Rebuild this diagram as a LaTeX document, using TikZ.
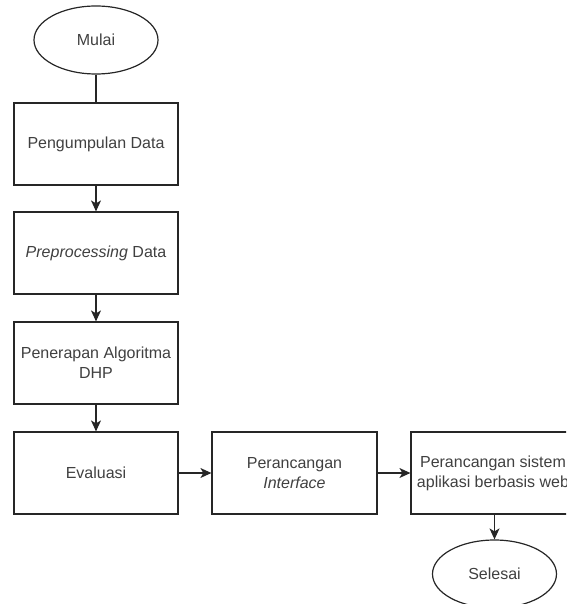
\documentclass[tikz,border=0pt]{standalone}
\usepackage{fontspec}
\setmainfont{Liberation Sans}
\usetikzlibrary{shapes.geometric,arrows.meta}
\begin{document}
\begin{tikzpicture}[x=1pt,y=-1pt,
  box/.style={draw=black!85, line width=1.2pt, minimum width=164pt, minimum height=82pt, inner sep=0pt, align=center, text=black!75, font=\fontsize{16}{20}\selectfont},
  term/.style={ellipse, draw=black!85, line width=1.2pt, minimum width=124pt, minimum height=68pt, inner sep=0pt, text=black!75, font=\fontsize{16}{20}\selectfont},
  conn/.style={line width=1.2pt, draw=black!85},
  arr/.style={conn, -{Stealth[length=11pt,width=10pt,inset=3pt]}}]
\useasboundingbox (0,0) rectangle (566,604);
\clip (0,0) rectangle (566,604);
\node[term] (mulai) at (96,40) {Mulai};
\node[box] (b1) at (96,144) {Pengumpulan Data};
\node[box] (b2) at (96,253) {\textit{Preprocessing} Data};
\node[box] (b3) at (96,363) {Penerapan Algoritma\\DHP};
\node[box] (b4) at (96,473) {Evaluasi};
\node[box, minimum width=165pt] (b5) at (294.5,473) {Perancangan\\\textit{Interface}};
\node[box] (b6) at (493,473) {Perancangan sistem\\aplikasi berbasis web};
\node[term] (selesai) at (494.5,574) {Selesai};
\draw[conn] (mulai) -- (b1);
\draw[arr] (b1) -- (b2);
\draw[arr] (b2) -- (b3);
\draw[arr] (b3) -- (b4);
\draw[arr] (b4) -- (b5);
\draw[arr] (b5) -- (b6);
\draw[arr] (b6.south -| selesai) -- (selesai);
\end{tikzpicture}
\end{document}
